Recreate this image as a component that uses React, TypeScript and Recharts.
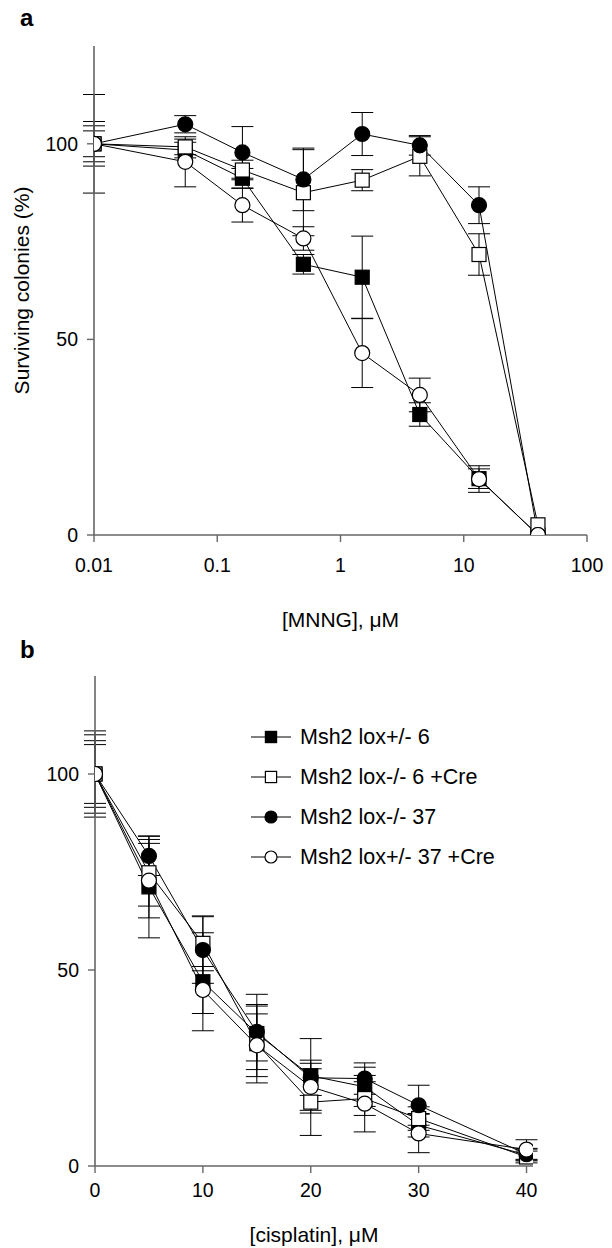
import React from 'react';
import { LineChart, Line, XAxis, YAxis, ErrorBar, Legend } from 'recharts';

// ---------- Panel a: MNNG ----------
const mnngDose = [0.01, 0.055, 0.16, 0.5, 1.5, 4.4, 13.3, 40];
const mnngTicks = [0.01, 0.1, 1, 10, 100];
const mnngHet6 = [100, 98.4, 91.2, 69.2, 65.9, 30.8, 14.4, 0];
const mnngHet6Err = [12.6, 2, 2.5, 2.5, 10.5, 3, 2.5, 0];
const mnngKo6Cre = [100, 99.2, 93.3, 87.5, 90.7, 96.8, 71.7, 2.6];
const mnngKo6CreErr = [5.7, 2, 2.5, 11, 2.7, 5, 5.3, 0];
const mnngKo37 = [100, 105, 97.8, 90.9, 102.5, 99.6, 84.3, 0];
const mnngKo37Err = [4.6, 2.2, 6.6, 8, 5.5, 2.5, 4.7, 0];
const mnngHet37Cre = [100, 95.4, 84.3, 75.8, 46.5, 35.8, 14.3, 0];
const mnngHet37CreErr = [3.3, 6.4, 4.3, 3, 8.8, 4.3, 3.4, 0];

// ---------- Panel b: cisplatin ----------
const cisDose = [0, 5, 10, 15, 20, 25, 30, 40];
const cisTicks = [0, 10, 20, 30, 40];
const cisHet6 = [100, 71.2, 47, 33.8, 23, 20.2, 10.4, 2.8];
const cisHet6Err = [11, 13, 12.5, 7, 9.5, 5, 3, 1.5];
const cisKo6Cre = [100, 74.8, 56.8, 31.2, 16.3, 17.2, 12.1, 2.3];
const cisKo6CreErr = [10, 8.5, 7, 10, 8.5, 4.3, 3, 1.5];
const cisKo37 = [100, 79.1, 55.1, 34.2, 22.5, 22.3, 15.5, 3];
const cisKo37Err = [8.5, 5, 8.5, 9.6, 4.5, 4, 5.1, 1.5];
const cisHet37Cre = [100, 72.8, 44.9, 30.8, 20.2, 15.9, 8.3, 4.2];
const cisHet37CreErr = [7.5, 9.5, 6, 8, 6, 7.2, 4.9, 2.5];

const yTicks = [0, 50, 100];
const seriesNames = ['Msh2 lox+/- 6', 'Msh2 lox-/- 6 +Cre', 'Msh2 lox-/- 37', 'Msh2 lox+/- 37 +Cre'];
const seriesShapes = ['square', 'square', 'circle', 'circle'];
const seriesFilled = [true, false, true, false];

const FONT = 'Liberation Sans, Arial, Helvetica, sans-serif';
const AXIS = '#666';
const SQ = 14;
const RAD = 7.5;

const toRows = (xs: number[], ys: number[], es: number[]) =>
  xs.map((x, i) => ({ x, y: ys[i], e: es[i] }));

const mnngRows = [
  toRows(mnngDose, mnngHet6, mnngHet6Err),
  toRows(mnngDose, mnngKo6Cre, mnngKo6CreErr),
  toRows(mnngDose, mnngKo37, mnngKo37Err),
  toRows(mnngDose, mnngHet37Cre, mnngHet37CreErr),
];
const cisRows = [
  toRows(cisDose, cisHet6, cisHet6Err),
  toRows(cisDose, cisKo6Cre, cisKo6CreErr),
  toRows(cisDose, cisKo37, cisKo37Err),
  toRows(cisDose, cisHet37Cre, cisHet37CreErr),
];

function Marker({ cx, cy, shape, filled, size = 1 }: any) {
  const fill = filled ? '#000' : '#fff';
  if (shape === 'square') {
    const s = SQ * size;
    return <rect x={cx - s / 2} y={cy - s / 2} width={s} height={s} fill={fill} stroke="#000" strokeWidth={1.2} />;
  }
  return <circle cx={cx} cy={cy} r={RAD * size} fill={fill} stroke="#000" strokeWidth={1.2} />;
}

const makeDot = (i: number) => (props: any) => {
  const { cx, cy, index } = props;
  if (cx == null || cy == null) return <g key={`d${index}`} />;
  return (
    <g key={`d${index}`}>
      <Marker cx={cx} cy={cy} shape={seriesShapes[i]} filled={seriesFilled[i]} />
    </g>
  );
};

const renderLegend = (props: any) => {
  const payload = [...(props.payload || [])].sort(
    (a: any, b: any) => seriesNames.indexOf(a.value) - seriesNames.indexOf(b.value)
  );
  return (
    <div style={{ fontFamily: FONT, fontSize: 21.5, color: '#000' }}>
      {payload.map((entry: any, k: number) => {
        const i = seriesNames.indexOf(entry.value);
        return (
          <div key={k} style={{ display: 'flex', alignItems: 'center', height: 40 }}>
            <svg width={42} height={20} style={{ overflow: 'visible' }}>
              <line x1={1} y1={10} x2={41} y2={10} stroke="#000" strokeWidth={1} />
              <Marker cx={21} cy={10} shape={seriesShapes[i]} filled={seriesFilled[i]} size={0.8} />
            </svg>
            <span style={{ marginLeft: 8, whiteSpace: 'pre' }}>{entry.value}</span>
          </div>
        );
      })}
    </div>
  );
};

const tickStyle = { fill: '#000', fontSize: 19.5, fontFamily: FONT };
const labelStyle = { fill: '#000', fontSize: 21, fontFamily: FONT };

function renderLines(rows: any[][]) {
  return rows.map((data, i) => (
    <Line
      key={seriesNames[i]}
      data={data}
      dataKey="y"
      name={seriesNames[i]}
      type="linear"
      stroke="#000"
      strokeWidth={1}
      dot={makeDot(i)}
      activeDot={false}
      isAnimationActive={false}
    >
      <ErrorBar dataKey="e" direction="y" width={11} stroke="#000" strokeWidth={1} isAnimationActive={false} />
    </Line>
  ));
}

export default function App() {
  return (
    <div style={{ position: 'absolute', left: 0, top: 0, width: 612, height: 1248, background: '#fff', fontFamily: FONT }}>
      <div style={{ position: 'absolute', left: 20, top: 6, fontSize: 24, fontWeight: 'bold', lineHeight: 1 }}>a</div>
      <div style={{ position: 'absolute', left: 20, top: 638, fontSize: 24, fontWeight: 'bold', lineHeight: 1 }}>b</div>

      <div style={{ position: 'absolute', left: 0, top: 0 }}>
        <LineChart width={612} height={640} margin={{ top: 46, right: 25, left: 0, bottom: 0 }}>
          <XAxis
            type="number"
            dataKey="x"
            scale="log"
            domain={[0.01, 100]}
            ticks={mnngTicks}
            interval={0}
            allowDataOverflow
            tickFormatter={(v: number) => String(v)}
            height={105}
            tickSize={7}
            tickMargin={16}
            tick={tickStyle}
            tickLine={{ stroke: AXIS, strokeWidth: 1.4 }}
            axisLine={{ stroke: AXIS, strokeWidth: 1.6 }}
            label={{ value: '[MNNG], μM', position: 'insideBottom', offset: 13, style: labelStyle }}
          />
          <YAxis
            type="number"
            domain={[0, 125]}
            ticks={yTicks}
            interval={0}
            allowDataOverflow
            width={94}
            tickSize={7}
            tickMargin={9}
            tick={tickStyle}
            tickLine={{ stroke: AXIS, strokeWidth: 1.4 }}
            axisLine={{ stroke: AXIS, strokeWidth: 1.6 }}
            label={{ value: 'Surviving colonies (%)', angle: -90, position: 'insideLeft', offset: 22, style: { ...labelStyle, textAnchor: 'middle' } }}
          />
          {renderLines(mnngRows)}
        </LineChart>
      </div>

      <div style={{ position: 'absolute', left: 0, top: 640 }}>
        <LineChart width={612} height={608} margin={{ top: 36, right: 79, left: 0, bottom: 0 }}>
          <XAxis
            type="number"
            dataKey="x"
            domain={[0, 40.6]}
            ticks={cisTicks}
            interval={0}
            allowDataOverflow
            height={82}
            tickSize={7}
            tickMargin={10}
            tick={tickStyle}
            tickLine={{ stroke: AXIS, strokeWidth: 1.4 }}
            axisLine={{ stroke: AXIS, strokeWidth: 1.6 }}
            label={{ value: '[cisplatin], μM', position: 'insideBottom', offset: 6, style: labelStyle }}
          />
          <YAxis
            type="number"
            domain={[0, 125]}
            ticks={yTicks}
            interval={0}
            allowDataOverflow
            width={95}
            tickSize={7}
            tickMargin={9}
            tick={tickStyle}
            tickLine={{ stroke: AXIS, strokeWidth: 1.4 }}
            axisLine={{ stroke: AXIS, strokeWidth: 1.6 }}
          />
          {renderLines(cisRows)}
          <Legend
            layout="vertical"
            align="center"
            verticalAlign="middle"
            wrapperStyle={{ left: 250, top: 77, width: 350 }}
            content={renderLegend}
          />
        </LineChart>
      </div>
    </div>
  );
}
